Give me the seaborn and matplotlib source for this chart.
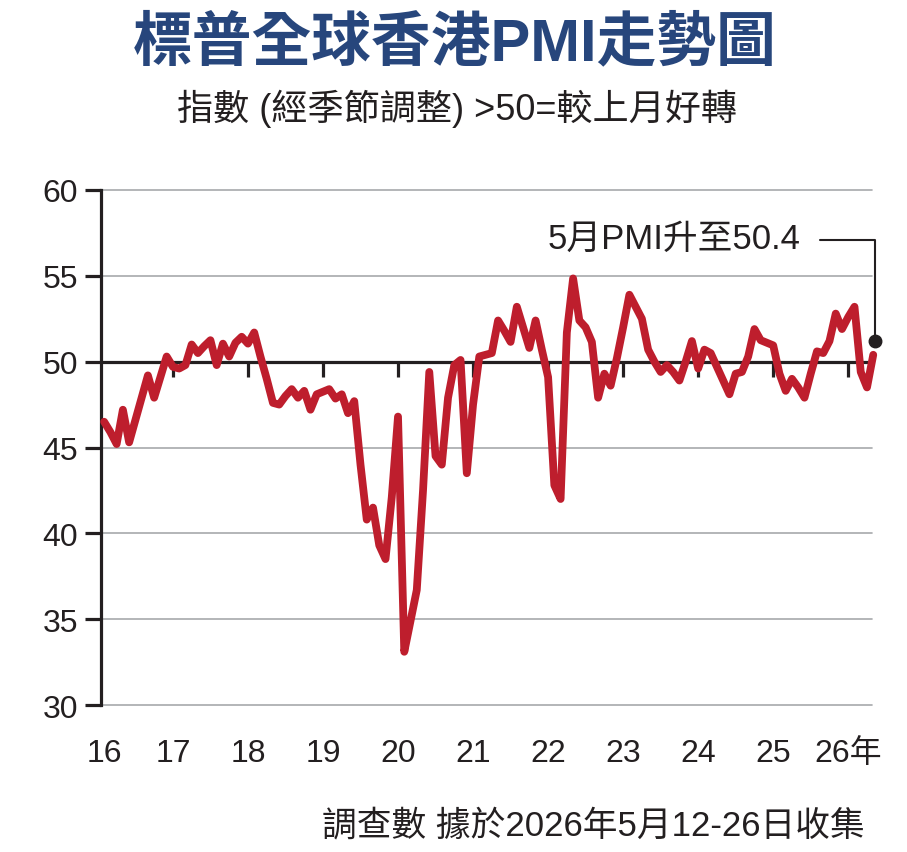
import matplotlib
matplotlib.use("Agg")
import matplotlib.pyplot as plt
import pandas as pd
import seaborn as sns


# monthly S&P Global Hong Kong PMI, Feb 2016 - May 2026
START_MONTH = "2016-02"
PMI_2016 = [46.5, 45.9, 45.2, 47.2, 45.3, 46.6, 47.9, 49.2, 47.9, 49.1, 50.3]
PMI_2017 = [49.7, 49.6, 49.8, 51.0, 50.5, 50.9, 51.25, 49.8, 51.05, 50.3, 51.1, 51.45]
PMI_2018 = [51.05, 51.7, 50.3, 49.0, 47.6, 47.5, 48.0, 48.4, 47.9, 48.3, 47.2, 48.1]
PMI_2019 = [48.25, 48.4, 47.85, 48.1, 47.0, 47.7, 44.0, 40.8, 41.5, 39.3, 38.5, 42.1]
PMI_2020 = [46.8, 33.1, 34.9, 36.7, 42.5, 49.4, 44.5, 44.0, 47.9, 49.8, 50.1, 43.5]
PMI_2021 = [47.5, 50.3, 50.4, 50.5, 52.4, 51.8, 51.15, 53.2, 52.0, 50.8, 52.4, 50.7]
PMI_2022 = [49.1, 42.8, 42.0, 51.7, 54.85, 52.4, 52.0, 51.15, 47.9, 49.3, 48.6, 50.2]
PMI_2023 = [52.0, 53.9, 53.2, 52.5, 50.7, 50.0, 49.4, 49.8, 49.4, 48.9, 50.0, 51.2]
PMI_2024 = [49.6, 50.7, 50.5, 49.7, 48.9, 48.1, 49.3, 49.4, 50.3, 51.9, 51.25, 51.1]
PMI_2025 = [50.95, 49.3, 48.3, 49.0, 48.5, 47.9, 49.3, 50.6, 50.5, 51.2, 52.8, 51.9]
PMI_2026 = [52.6, 53.2, 49.4, 48.5, 50.4]

YEAR_LABELS = ["16", "17", "18", "19", "20", "21", "22", "23", "24", "25", "26年"]
Y_TICKS = [30, 35, 40, 45, 50, 55, 60]

TITLE = "標普全球香港PMI走勢圖"
SUBTITLE = "指數 (經季節調整) >50=較上月好轉"
NOTE = "5月PMI升至50.4"
SOURCE = "調查數 據於2026年5月12-26日收集"

RED = "#be1e2d"
BLUE = "#27467c"
INK = "#231f20"
GRID = "#a7a9ac"


def build_frame():
    values = (PMI_2016 + PMI_2017 + PMI_2018 + PMI_2019 + PMI_2020 + PMI_2021
              + PMI_2022 + PMI_2023 + PMI_2024 + PMI_2025 + PMI_2026)
    months = pd.date_range(START_MONTH, periods=len(values), freq="MS")
    idx = (months.year - 2016) * 12 + months.month - 1
    return pd.DataFrame({"idx": idx, "pmi": values})


def main():
    df = build_frame()

    sns.set_theme(style="white")
    plt.rcParams["font.family"] = ["Liberation Sans", "Noto Sans CJK TC"]

    fig = plt.figure(figsize=(9.07, 8.53), dpi=100)
    ax = fig.add_axes([101 / 907, 1 - 706 / 853, (872 - 101) / 907, (706 - 191) / 853])

    # grid lines, 50 drawn heavier
    for t in Y_TICKS:
        if t == 50:
            ax.axhline(t, color=INK, lw=2.3, zorder=2, clip_on=False)
        else:
            ax.axhline(t, color=GRID, lw=1.2, zorder=1, clip_on=False)

    sns.lineplot(data=df, x="idx", y="pmi", color=RED, lw=5.6, ax=ax, zorder=3)
    for line in ax.lines[-1:]:
        line.set_clip_on(False)
        line.set_solid_capstyle("round")
        line.set_solid_joinstyle("round")

    ax.set_xlim(0.5, 123.8)
    ax.set_ylim(30, 60)

    # year ticks hang from the 50 line
    jan_idx = [12 * k for k in range(1, len(YEAR_LABELS))]
    ax.vlines(jan_idx, 50 - 0.88, 50, color=INK, lw=2.3, zorder=2)

    ax.set_xticks([df["idx"].iloc[0]] + jan_idx)
    ax.set_xticklabels(YEAR_LABELS)
    ax.set_yticks(Y_TICKS)
    ax.set_xlabel("")
    ax.set_ylabel("")
    ax.tick_params(axis="x", length=0, pad=24, labelsize=23, labelcolor=INK)
    ax.tick_params(axis="y", length=11.5, width=2.3, pad=5, labelsize=23,
                   color=INK, labelcolor=INK, left=True)

    for side in ["top", "right", "bottom"]:
        ax.spines[side].set_visible(False)
    ax.spines["left"].set_color(INK)
    ax.spines["left"].set_linewidth(2.3)

    # latest reading callout
    last_x = df["idx"].iloc[-1]
    last_y = df["pmi"].iloc[-1]
    dot_x, dot_y = last_x + 0.3, last_y + 0.8
    ax.plot([115.5, dot_x, dot_x], [57.1, 57.1, dot_y], color=INK, lw=1.5,
            clip_on=False, zorder=4)
    ax.plot(dot_x, dot_y, "o", color=INK, ms=9, clip_on=False, zorder=5)
    ax.text(112.3, 57.2, NOTE, ha="right", va="center", fontsize=25, color=INK)

    fig.text(455 / 907, 1 - 44 / 853, TITLE, ha="center", va="center",
             fontsize=43, fontweight="bold", color=BLUE)
    fig.text(457 / 907, 1 - 109 / 853, SUBTITLE, ha="center", va="center",
             fontsize=26, color=INK)
    fig.text(865 / 907, 1 - 826 / 853, SOURCE, ha="right", va="center",
             fontsize=25, color=INK)

    fig.savefig("out.png", dpi=100)
    plt.close(fig)


if __name__ == "__main__":
    main()
